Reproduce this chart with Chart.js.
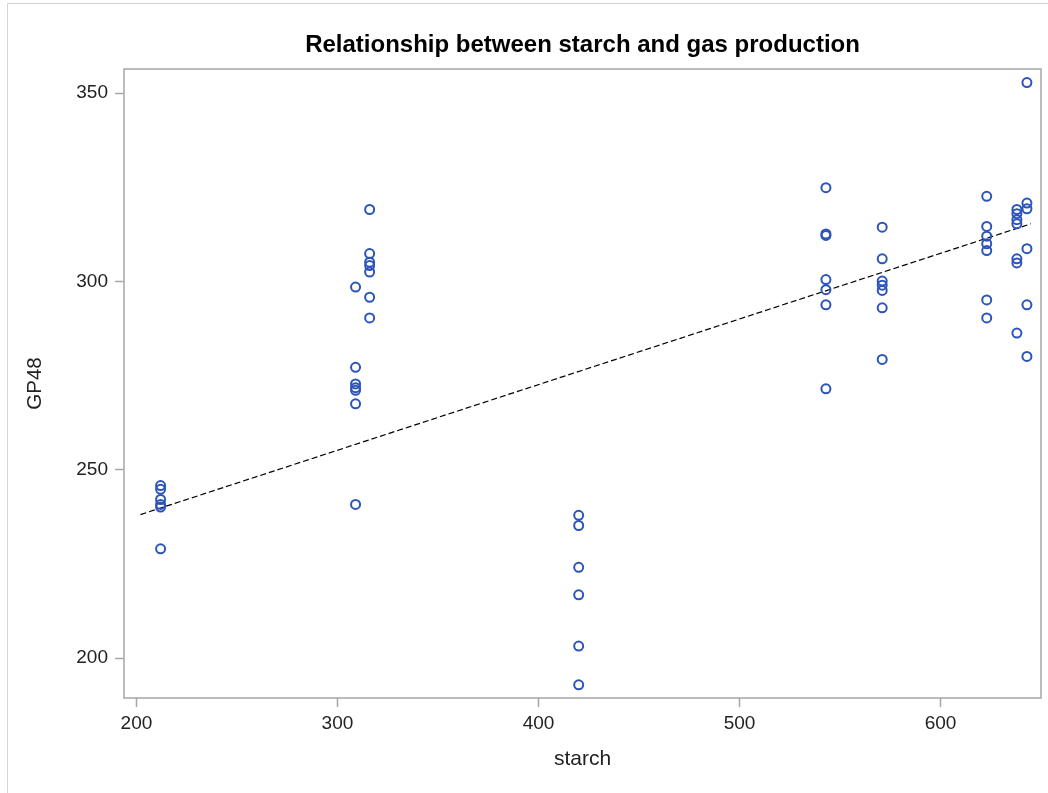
<!DOCTYPE html>
<html lang="en">
<head>
    <meta charset="UTF-8">
    <title>Relationship between starch and gas production</title>
    <style>
        body {
            margin: 0;
            background-color: #ffffff;
        }
        #wrap {
            position: relative;
            width: 1048px;
            height: 793px;
        }
    </style>
</head>
<body>
    <div id="wrap">
        <canvas id="gasChart" width="1048" height="793"></canvas>
    </div>

    <script src="https://cdn.jsdelivr.net/npm/chart.js@4/dist/chart.umd.min.js"></script>
    <script>
        // starch level of each sample and its 48 h gas production
        const starch = [
            212, 212, 212, 212, 212, 212,
            309, 309, 309, 309, 309, 309, 309,
            316, 316, 316, 316, 316, 316, 316,
            420, 420, 420, 420, 420, 420,
            543, 543, 543, 543, 543, 543, 543,
            571, 571, 571, 571, 571, 571, 571,
            623, 623, 623, 623, 623, 623, 623,
            638, 638, 638, 638, 638, 638, 638,
            643, 643, 643, 643, 643, 643
        ];
        const gp48 = [
            245.8, 244.8, 242.1, 240.8, 240.1, 229.0,
            298.5, 277.2, 272.8, 271.8, 271.1, 267.5, 240.8,
            319.1, 307.4, 305.1, 304.2, 302.5, 295.8, 290.3,
            237.9, 235.2, 224.1, 216.8, 203.2, 192.9,
            324.9, 312.6, 312.2, 300.5, 297.8, 293.8, 271.5,
            314.4, 306.0, 300.1, 299.0, 297.6, 293.0, 279.3,
            322.6, 314.6, 312.0, 310.0, 308.2, 295.1, 290.3,
            319.1, 318.0, 316.4, 315.3, 306.0, 304.9, 286.3,
            352.8, 320.8, 319.3, 308.7, 293.8, 280.1
        ];

        // fitted line ends
        const fitStarch = [202, 645];
        const fitGP48 = [238.1, 315.3];

        const xTicks = [200, 300, 400, 500, 600];
        const yTicks = [200, 250, 300, 350];

        const points = starch.map((s, i) => ({ x: s, y: gp48[i] }));
        const fitLine = fitStarch.map((s, i) => ({ x: s, y: fitGP48[i] }));

        const axisGray = '#a6a6a6';
        const textColor = '#222222';
        const font = 'Arial, "Liberation Sans", sans-serif';

        // plot frame plus the thin outer border of the graph
        const framePlugin = {
            id: 'frame',
            afterDraw(chart) {
                const { ctx, chartArea: a } = chart;
                ctx.save();
                ctx.strokeStyle = axisGray;
                ctx.lineWidth = 1.5;
                ctx.strokeRect(a.left, a.top, a.right - a.left, a.bottom - a.top);
                ctx.strokeStyle = '#d4d4d4';
                ctx.lineWidth = 1;
                ctx.beginPath();
                ctx.moveTo(7.5, chart.height);
                ctx.lineTo(7.5, 3.5);
                ctx.lineTo(chart.width, 3.5);
                ctx.stroke();
                ctx.restore();
            }
        };

        new Chart(document.getElementById('gasChart'), {
            type: 'scatter',
            data: {
                datasets: [
                    {
                        label: 'GP48',
                        data: points,
                        pointStyle: 'circle',
                        pointRadius: 4.5,
                        pointBorderWidth: 2,
                        borderColor: '#2c54bb',
                        backgroundColor: 'rgba(0,0,0,0)',
                        order: 1
                    },
                    {
                        type: 'line',
                        label: 'Fit',
                        data: fitLine,
                        borderColor: '#000000',
                        borderWidth: 1.2,
                        borderDash: [6, 3],
                        pointRadius: 0,
                        fill: false,
                        order: 2
                    }
                ]
            },
            options: {
                responsive: false,
                animation: false,
                layout: { padding: { left: 0, right: 7, top: 0, bottom: 0 } },
                plugins: {
                    legend: { display: false },
                    tooltip: { enabled: false },
                    title: {
                        display: true,
                        fullSize: false,
                        text: 'Relationship between starch and gas production',
                        color: '#000000',
                        font: { family: font, size: 24, weight: 'bold', lineHeight: 1.2 },
                        padding: { top: 31, bottom: 9.2 }
                    }
                },
                scales: {
                    x: {
                        type: 'linear',
                        min: 193.8,
                        max: 650,
                        afterBuildTicks(scale) {
                            scale.ticks = xTicks.map(v => ({ value: v }));
                        },
                        afterFit(scale) {
                            scale.height = 95;
                        },
                        grid: {
                            drawOnChartArea: false,
                            drawTicks: true,
                            tickLength: 9,
                            tickColor: axisGray,
                            tickWidth: 1.5
                        },
                        border: { display: false },
                        ticks: {
                            color: textColor,
                            font: { family: font, size: 19 },
                            padding: 5,
                            maxRotation: 0
                        },
                        title: {
                            display: true,
                            text: 'starch',
                            color: textColor,
                            font: { family: font, size: 21 },
                            padding: { top: 0, bottom: 21 }
                        }
                    },
                    y: {
                        type: 'linear',
                        min: 189.4,
                        max: 356.4,
                        afterBuildTicks(scale) {
                            scale.ticks = yTicks.map(v => ({ value: v }));
                        },
                        afterFit(scale) {
                            scale.width = 124;
                        },
                        grid: {
                            drawOnChartArea: false,
                            drawTicks: true,
                            tickLength: 9,
                            tickColor: axisGray,
                            tickWidth: 1.5
                        },
                        border: { display: false },
                        ticks: {
                            color: textColor,
                            font: { family: font, size: 19 },
                            padding: 7
                        },
                        title: {
                            display: true,
                            text: 'GP48',
                            color: textColor,
                            font: { family: font, size: 20.5 },
                            padding: { top: 23, bottom: 0 }
                        }
                    }
                }
            },
            plugins: [framePlugin]
        });
    </script>
</body>
</html>
